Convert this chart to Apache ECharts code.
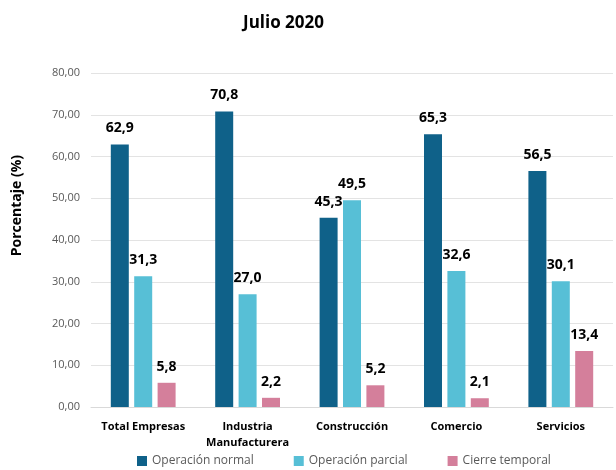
<!DOCTYPE html>
<html>
<head>
<meta charset="utf-8">
<script src="https://cdn.jsdelivr.net/npm/echarts@6/dist/echarts.min.js"></script>
<style>
  html, body { margin: 0; padding: 0; background: #fff; }
  #chart { width: 616px; height: 470px; }
</style>
</head>
<body>
<div id="chart"></div>
<script>
var categories = ['Total Empresas', 'Industria\nManufacturera', 'Construcción', 'Comercio', 'Servicios'];
var normalValues = [62.9, 70.8, 45.3, 65.3, 56.5];
var parcialValues = [31.3, 27.0, 49.5, 32.6, 30.1];
var cierreValues = [5.8, 2.2, 5.2, 2.1, 13.4];
var seriesNames = ['Operación normal', 'Operación parcial', 'Cierre temporal'];
var seriesColors = ['#0f6189', '#57bfd6', '#d47f9b'];

var font = '"Open Sans", "Noto Sans", sans-serif';
var chart = echarts.init(document.getElementById('chart'));

function comma(v, d) {
    return v.toFixed(d).replace('.', ',');
}

function makeSeries(name, data, color) {
    return {
        name: name,
        type: 'bar',
        data: data,
        barWidth: 18,
        barGap: '30%',
        itemStyle: { color: color },
        label: {
            show: true,
            position: 'top',
            distance: 9,
            fontFamily: font,
            fontSize: 14,
            fontWeight: 'bold',
            color: '#000',
            formatter: function (p) { return comma(p.value, 1); }
        }
    };
}

var option = {
    animation: false,
    textStyle: { fontFamily: font },
    title: {
        text: 'Julio 2020',
        left: 238,
        top: 10,
        textStyle: { fontFamily: font, fontSize: 17, fontWeight: 'bold', color: '#000' }
    },
    grid: { left: 91, right: 3, top: 73, bottom: 63 },
    legend: {
        top: 450,
        left: 132,
        itemWidth: 10,
        itemHeight: 10,
        itemGap: 40,
        itemStyle: { borderWidth: 0 },
        icon: 'rect',
        textStyle: { fontFamily: font, fontSize: 12, color: '#595959' },
        data: seriesNames
    },
    xAxis: {
        type: 'category',
        data: categories,
        axisLine: { lineStyle: { color: '#d9d9d9' } },
        axisTick: { show: false },
        axisLabel: {
            interval: 0,
            fontFamily: font,
            fontSize: 11,
            fontWeight: 'bold',
            color: '#000',
            margin: 12,
            lineHeight: 16
        }
    },
    yAxis: {
        type: 'value',
        min: 0,
        max: 80,
        interval: 10,
        splitLine: { lineStyle: { color: '#e3e3e3' } },
        axisLine: { show: false },
        axisTick: { show: false },
        axisLabel: {
            fontFamily: font,
            fontSize: 11,
            color: '#595959',
            margin: 11,
            formatter: function (v) { return comma(v, 2); }
        }
    },
    graphic: [{
        type: 'text',
        left: 10,
        top: 155,
        rotation: Math.PI / 2,
        style: {
            text: 'Porcentaje (%)',
            fontFamily: font,
            fontSize: 14,
            fontWeight: 'bold',
            fill: '#000'
        }
    }],
    series: [
        makeSeries(seriesNames[0], normalValues, seriesColors[0]),
        makeSeries(seriesNames[1], parcialValues, seriesColors[1]),
        makeSeries(seriesNames[2], cierreValues, seriesColors[2])
    ]
};

chart.setOption(option);
</script>
</body>
</html>
